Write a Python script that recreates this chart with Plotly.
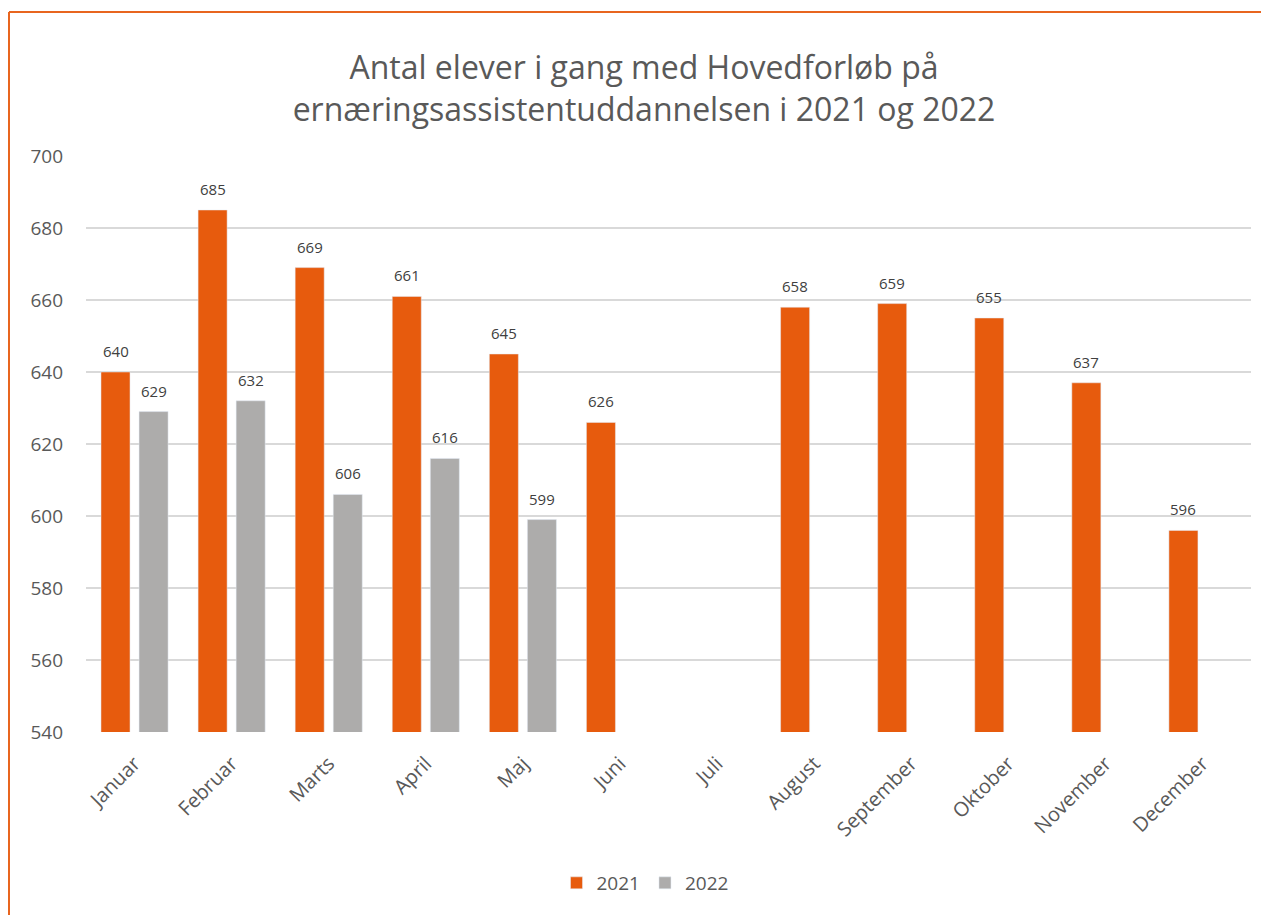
import plotly.graph_objects as go

months = ["Januar", "Februar", "Marts", "April", "Maj", "Juni", "Juli",
          "August", "September", "Oktober", "November", "December"]
values_2021 = [640, 685, 669, 661, 645, 626, None, 658, 659, 655, 637, 596]
values_2022 = [629, 632, 606, 616, 599, None, None, None, None, None, None, None]

# page offset of the plot div (body margin)
OX, OY = 8, 8
W, H = 1269 - OX, 915 - OY
# plot area in page pixels
PX0, PX1, PY0, PY1 = 86, 1251, 156, 732
L, R, T, B = PX0 - OX, 1269 - PX1, PY0 - OY, 915 - PY1
pw, ph = PX1 - PX0, PY1 - PY0

def px_x(x):
    return (x - PX0) / pw

def px_y(y):
    return (PY1 - y) / ph

fig = go.Figure()
fig.add_trace(go.Bar(x=months, y=values_2021, name="2021", marker_color="#E75B0D"))
fig.add_trace(go.Bar(x=months, y=values_2022, name="2022", marker_color="#ADACAB"))

# data labels above the bars
slot = pw / len(months) * (1 - 0.216) / 2
for vals, dx in [(values_2021, -slot / 2), (values_2022, slot / 2)]:
    for m, v in zip(months, vals):
        if v is None:
            continue
        fig.add_annotation(x=m, y=v, text=str(v), showarrow=False,
                           xshift=dx, yshift=21, yanchor="middle",
                           font=dict(size=15, color="#404040"))

# orange frame (only left and top edges visible in the crop)
fig.add_shape(type="line", xref="paper", yref="paper",
              x0=px_x(9), x1=px_x(9), y0=px_y(930), y1=px_y(12),
              line=dict(color="#E8651F", width=2))
fig.add_shape(type="line", xref="paper", yref="paper",
              x0=px_x(9), x1=px_x(1290), y0=px_y(12), y1=px_y(12),
              line=dict(color="#E8651F", width=2))

fig.update_layout(
    width=W, height=H,
    margin=dict(l=L, r=R, t=T, b=B, autoexpand=False),
    paper_bgcolor="white", plot_bgcolor="white",
    font=dict(family="Open Sans", color="#595959"),
    title=dict(
        text="Antal elever i gang med Hovedforløb på<br>ernæringsassistentuddannelsen i 2021 og 2022",
        x=(644 - OX) / W, xanchor="center", y=1 - (79 - OY) / H, yanchor="middle",
        font=dict(size=32, color="#595959"),
    ),
    barmode="group", bargap=0.216, bargroupgap=0.237,
    showlegend=True,
    legend=dict(orientation="h", x=px_x(645), xanchor="center",
                y=px_y(883), yanchor="middle", font=dict(size=19, color="#595959"),
                itemwidth=30, traceorder="normal"),
    xaxis=dict(tickangle=-45, tickfont=dict(size=20, color="#595959"),
               showline=False, ticks="", showgrid=False, ticklabelstandoff=15),
    yaxis=dict(range=[540, 700], dtick=20, showgrid=True, gridcolor="#D9D9D9",
               gridwidth=1.5, zeroline=False, showline=False, ticks="",
               tickfont=dict(size=19, color="#595959"), ticklabelstandoff=22),
)

fig.write_html("out.html")
